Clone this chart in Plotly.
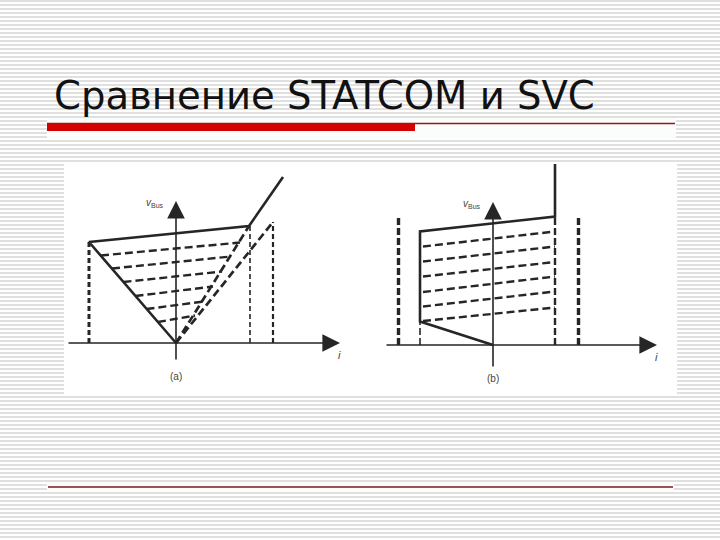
import plotly.graph_objects as go

# ---------------- data (diagram units: i horizontal, V vertical) ----------------
TITLE = "Сравнение STATCOM и SVC"

# Panel (a) STATCOM
A_SOLID_I = [0, -8.7, 7.3, 10.7]
A_SOLID_V = [0, 10.1, 11.7, 16.6]
A_DIAG_END_I = [7.3, 9.7]
A_DIAG_END_V = [11.7, 12.1]
A_VERT_I = [-8.7, 7.4, 9.7]
A_VERT_TOP = [10.1, 11.7, 12.1]
A_LEVEL_IL = [-7.5, -6.4, -5.25, -4.05, -2.95, -1.8]
A_LEVEL_VL = [8.75, 7.45, 6.1, 4.7, 3.4, 2.1]
A_LEVEL_IR = [6.4, 5.5, 4.6, 3.7, 2.8, 1.9]
A_LEVEL_VR = [10.05, 8.65, 7.15, 5.65, 4.15, 2.75]

# Panel (b) SVC
B_SOLID_I = [0, -7.3, -7.3, 6.2, 6.2]
B_SOLID_V = [0, 2.35, 11.35, 12.85, 18.3]
B_VERT_I = [-9.45, -7.3, 6.2, 8.55]
B_VERT_TOP = [12.85, 2.35, 12.85, 12.85]
B_VERT_W = [3.4, 1.6, 2.4, 3.4]
B_LEVEL_IL = [-7.0, -7.0, -7.0, -7.0, -7.0, -7.0]
B_LEVEL_VL = [9.85, 8.35, 6.85, 5.3, 3.85, 2.4]
B_LEVEL_IR = [6.2, 6.2, 6.2, 6.2, 6.2, 6.2]
B_LEVEL_VR = [11.35, 9.85, 8.3, 6.85, 5.35, 3.75]

AXIS_I = [-10.9, 16.4]
AXIS_V = [-1.8, 14.2]
AXIS_I_B = [-10.8, 16.4]
AXIS_V_B = [-2.3, 14.3]

W, H = 720, 540
INK = "#262626"


def px(x):
    return x / W


def py(y):
    return 1 - y / H


fig = go.Figure()


def seg(xs, ys, xa, ya, width, dash=None, color=INK):
    fig.add_trace(go.Scatter(
        x=xs, y=ys, mode="lines", xaxis=xa, yaxis=ya, hoverinfo="skip",
        line=dict(color=color, width=width, dash=dash), showlegend=False))


# ---- panel (a)
seg(A_SOLID_I, A_SOLID_V, "x", "y", 2.6)
for ei, ev in zip(A_DIAG_END_I, A_DIAG_END_V):
    seg([0, ei], [0, ev], "x", "y", 2.7, "8px,4px")
for vi, vt, w in zip(A_VERT_I, A_VERT_TOP, [3.0, 1.6, 2.2]):
    seg([vi, vi], [0, vt], "x", "y", w, "5px,3px")
for il, vl, ir, vr in zip(A_LEVEL_IL, A_LEVEL_VL, A_LEVEL_IR, A_LEVEL_VR):
    seg([il, ir], [vl, vr], "x", "y", 2.4, "8px,4px")

# ---- panel (b)
seg(B_SOLID_I, B_SOLID_V, "x2", "y2", 2.6)
for vi, vt, w in zip(B_VERT_I, B_VERT_TOP, B_VERT_W):
    seg([vi, vi], [0, vt], "x2", "y2", w, "7px,3px")
for il, vl, ir, vr in zip(B_LEVEL_IL, B_LEVEL_VL, B_LEVEL_IR, B_LEVEL_VR):
    seg([il, ir], [vl, vr], "x2", "y2", 2.4, "8px,4px")

# ---------------- layout ----------------
shapes = []
# striped slide background
for k in range(H // 4 + 1):
    yy = 4 * k + 1
    shapes.append(dict(type="line", xref="paper", yref="paper", x0=0, x1=1,
                       y0=py(yy), y1=py(yy), line=dict(color="#d6d6d6", width=1.5),
                       layer="below"))
# white picture area
shapes.append(dict(type="rect", xref="paper", yref="paper", x0=px(64), x1=px(677),
                   y0=py(395), y1=py(164), fillcolor="white", line=dict(width=0),
                   layer="below"))
# band behind title rule
shapes.append(dict(type="rect", xref="paper", yref="paper", x0=px(47), x1=px(676),
                   y0=py(138), y1=py(118), fillcolor="#fbfdfd", line=dict(width=0),
                   layer="below"))
shapes.append(dict(type="line", xref="paper", yref="paper", x0=px(47), x1=px(675),
                   y0=py(123.5), y1=py(123.5), line=dict(color="#9a1414", width=1.5)))
shapes.append(dict(type="rect", xref="paper", yref="paper", x0=px(47), x1=px(415),
                   y0=py(131), y1=py(123), fillcolor="#d20000", line=dict(width=0)))
# bottom rule
shapes.append(dict(type="rect", xref="paper", yref="paper", x0=px(47), x1=px(674),
                   y0=py(492), y1=py(482), fillcolor="#fcfcfc", line=dict(width=0),
                   layer="below"))
shapes.append(dict(type="line", xref="paper", yref="paper", x0=px(48), x1=px(673),
                   y0=py(487), y1=py(487), line=dict(color="#7a1a1a", width=1.5)))

annotations = []
annotations.append(dict(text=TITLE, xref="paper", yref="paper", x=px(52), y=py(95),
                        xanchor="left", yanchor="middle", showarrow=False,
                        font=dict(family="DejaVu Sans", size=38.6, color="#111111")))


def axis_arrow(xa, ya, x0, y0, x1, y1):
    annotations.append(dict(x=x1, y=y1, ax=x0, ay=y0, xref=xa, yref=ya,
                            axref=xa, ayref=ya, showarrow=True, arrowhead=2,
                            arrowsize=2.2, arrowwidth=1.6, arrowcolor=INK, text=""))


axis_arrow("x", "y", AXIS_I[0], 0, AXIS_I[1], 0)
axis_arrow("x", "y", 0, AXIS_V[0], 0, AXIS_V[1])
axis_arrow("x2", "y2", AXIS_I_B[0], 0, AXIS_I_B[1], 0)
axis_arrow("x2", "y2", 0, AXIS_V_B[0], 0, AXIS_V_B[1])

lab_font = dict(family="Liberation Sans", size=10, color="#444444")
for xa, ya, ax_i, ax_v, tag in [("x", "y", AXIS_I, AXIS_V, "(a)"),
                                 ("x2", "y2", AXIS_I_B, AXIS_V_B, "(b)")]:
    annotations.append(dict(text="<i>v</i><sub>Bus</sub>", x=-1.0, y=ax_v[1] - 0.2,
                            xref=xa, yref=ya, xanchor="right", yanchor="middle",
                            showarrow=False, font=lab_font))
    annotations.append(dict(text="<i>i</i>", x=ax_i[1] - 0.1, y=-1.2, xref=xa, yref=ya,
                            xanchor="center", yanchor="middle", showarrow=False,
                            font=dict(family="Liberation Sans", size=11, color="#444444")))
    annotations.append(dict(text=tag, x=0, y=-3.3, xref=xa, yref=ya,
                            xanchor="center", yanchor="middle", showarrow=False,
                            font=lab_font))

ax_common = dict(visible=False, showgrid=False, zeroline=False, fixedrange=True)

fig.update_layout(
    width=W, height=H,
    margin=dict(l=0, r=0, t=0, b=0),
    paper_bgcolor="white",
    plot_bgcolor="rgba(0,0,0,0)",
    showlegend=False,
    shapes=shapes,
    annotations=annotations,
    xaxis=dict(domain=[px(64), px(360)], range=[-11.2, 18.4], **ax_common),
    yaxis=dict(domain=[py(395), py(164)], range=[-5.2, 17.9], **ax_common),
    xaxis2=dict(domain=[px(372), px(677)], range=[-12.1, 18.4], **ax_common),
    yaxis2=dict(domain=[py(395), py(164)], range=[-5.0, 18.1], **ax_common),
)

fig.write_html(
    "out.html",
    config={"displayModeBar": False, "staticPlot": True},
    post_script="document.body.style.margin='0';document.body.style.overflow='hidden';",
)
